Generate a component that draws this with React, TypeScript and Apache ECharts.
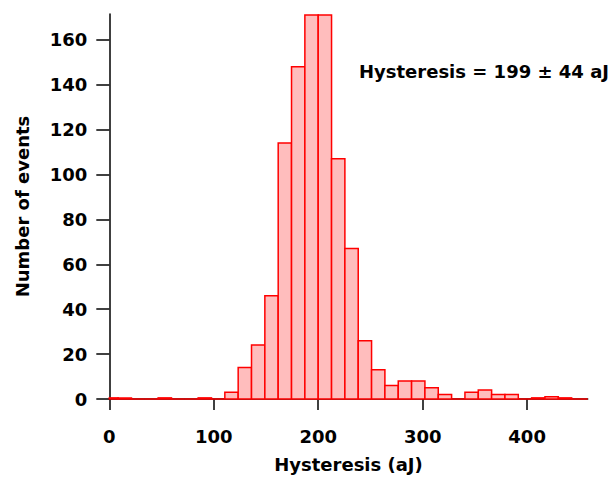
import React, { useEffect, useRef } from "react";
import * as echarts from "echarts";

// Histogram: bins of equal width starting at binStart
const binStart = -4.32;
const binWidth = 12.77;
const counts = [
  0.5, 0.5, 0, 0, 0.5, 0, 0, 0.5, 0, 3, 14, 24, 46, 114, 148, 171, 171, 107,
  67, 26, 13, 6, 8, 8, 5, 2, 0, 3, 4, 2, 2, 0, 0.5, 1, 0.5, 0, 0,
];
const xTicks = [0, 100, 200, 300, 400];
const yTicks = [0, 20, 40, 60, 80, 100, 120, 140, 160];
const xRange = [0, 458];
const yRange = [0, 171.5];
const annotation = "Hysteresis = 199 ± 44 aJ";
const xTitle = "Hysteresis (aJ)";
const yTitle = "Number of events";

const FONT = "DejaVu Sans";

export default function App() {
  const ref = useRef<HTMLDivElement>(null);
  useEffect(() => {
    if (!ref.current) return;
    const chart = echarts.init(ref.current, undefined, { renderer: "svg" });
    const data = counts.map((c, i) => [
      binStart + i * binWidth,
      binStart + (i + 1) * binWidth,
      c,
    ]);
    const option: any = {
      animation: false,
      backgroundColor: "#ffffff",
      grid: { left: 109.3, right: 23.3, top: 14, bottom: 78.7 },
      xAxis: {
        type: "value",
        min: xRange[0],
        max: xRange[1],
        offset: 4,
        splitLine: { show: false },
        axisLine: { show: true, lineStyle: { color: "#000", width: 1.5 } },
        axisTick: {
          show: true,
          length: 11,
          lineStyle: { color: "#000", width: 1.5 },
          customValues: xTicks,
        },
        axisLabel: {
          customValues: xTicks,
          margin: 24,
          color: "#000",
          fontFamily: FONT,
          fontWeight: "bold",
          fontSize: 18,
        },
        name: xTitle,
        nameLocation: "middle",
        nameGap: 52,
        nameMoveOverlap: false,
        nameTextStyle: {
          color: "#000",
          fontFamily: FONT,
          fontWeight: "bold",
          fontSize: 18,
        },
      },
      yAxis: {
        type: "value",
        min: yRange[0],
        max: yRange[1],
        offset: 3,
        splitLine: { show: false },
        axisLine: { show: true, lineStyle: { color: "#000", width: 1.5 } },
        axisTick: {
          show: true,
          length: 13,
          lineStyle: { color: "#000", width: 1.5 },
          customValues: yTicks,
        },
        axisLabel: {
          customValues: yTicks,
          margin: 19,
          color: "#000",
          fontFamily: FONT,
          fontWeight: "bold",
          fontSize: 18,
        },
        name: yTitle,
        nameLocation: "middle",
        nameRotate: 90,
        nameGap: 75,
        nameMoveOverlap: false,
        nameTextStyle: {
          color: "#000",
          fontFamily: FONT,
          fontWeight: "bold",
          fontSize: 18,
        },
      },
      graphic: [
        {
          type: "text",
          left: 359,
          top: 62,
          style: {
            text: annotation,
            fill: "#000",
            font: `bold 18px "${FONT}"`,
          },
        },
      ],
      series: [
        {
          type: "custom",
          data,
          encode: { x: [0, 1], y: 2 },
          renderItem: (params: any, api: any) => {
            const a = Math.max(api.value(0), xRange[0]);
            const b = Math.min(api.value(1), xRange[1]);
            if (b <= a) return null;
            const c = api.value(2);
            const p0 = api.coord([a, 0]);
            const p1 = api.coord([b, c]);
            if (c <= 0) {
              return {
                type: "line",
                shape: { x1: p0[0], y1: p0[1], x2: p1[0], y2: p0[1] },
                style: { stroke: "#ff0000", lineWidth: 1.5 },
              };
            }
            return {
              type: "rect",
              shape: {
                x: p0[0],
                y: p1[1],
                width: p1[0] - p0[0],
                height: p0[1] - p1[1],
              },
              style: {
                fill: "#ffbdbd",
                stroke: "#ff0000",
                lineWidth: 1.5,
              },
            };
          },
        },
      ],
    };
    chart.setOption(option);
    return () => chart.dispose();
  }, []);
  return (
    <div
      ref={ref}
      style={{ position: "absolute", left: 0, top: 0, width: 611, height: 478 }}
    />
  );
}
